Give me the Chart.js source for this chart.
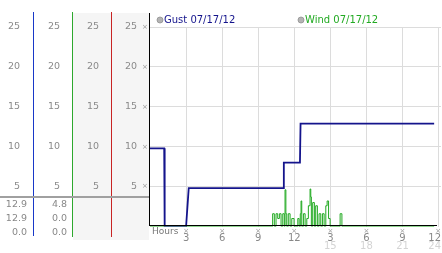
<!DOCTYPE html>
<html><head><meta charset="utf-8">
<script src="https://cdn.jsdelivr.net/npm/chart.js@4"></script>
<style>html,body{margin:0;padding:0;background:#fff;overflow:hidden}canvas{display:block}</style>
</head><body>
<canvas id="c" width="442" height="253"></canvas>
<script>
const gustLabel = 'Gust 07/17/12';
const windLabel = 'Wind 07/17/12';
const gustHours  = [0, 1.18, 1.22, 3.0, 3.22, 11.1, 11.13, 12.47, 12.52, 23.63];
const gustValues = [9.8, 9.8, 0, 0, 4.8, 4.8, 8.0, 8.0, 12.9, 12.9];
// wind: each value holds from its hour until the next hour (stepped)
const windHours = [0, 10.20, 10.34, 10.48, 10.62, 10.76, 10.90, 11.04, 11.17, 11.23,
  11.30, 11.37, 11.50, 11.65, 11.79, 11.98, 12.29, 12.40, 12.50, 12.56,
  12.62, 12.76, 12.90, 13.04, 13.17, 13.31, 13.37, 13.42, 13.53, 13.67,
  13.78, 13.92, 14.06, 14.20, 14.34, 14.48, 14.62, 14.73, 14.85, 14.98,
  15.81, 15.96, 23.63];
const windValues = [0, 1.6, 0, 1.6, 1.0, 1.6, 0, 1.6, 0, 4.6,
  1.6, 0, 1.6, 0, 1.0, 0, 1.0, 0, 1.6, 3.2,
  0, 1.6, 0, 1.0, 2.6, 4.7, 3.7, 0, 3.0, 0,
  2.6, 0, 1.6, 0, 1.6, 0, 2.6, 3.2, 1.0, 0,
  1.6, 0, 0];
const yTicks = [5, 10, 15, 20, 25];
const xTickHours = [3, 6, 9, 12, 15, 18, 21, 24];
const xTickLabels = ['3', '6', '9', '12', '3', '6', '9', '12'];
const xTickLabels24 = ['', '', '', '', '15', '18', '21', '24'];
const gustStats = ['12.9', '12.9', '0.0'];
const windStats = ['4.8', '0.0', '0.0'];

const F = '"DejaVu Sans", Verdana, sans-serif';
const GUST = '#14148c', WIND = '#22aa22';

const panel = {
  id: 'panel',
  beforeDraw(ch) {
    const c = ch.ctx; c.save();
    c.fillStyle = '#fff'; c.fillRect(0, 0, ch.width, ch.height);
    c.fillStyle = '#f5f5f5'; c.fillRect(73, 13, 76, 227);
    c.restore();
  },
  afterDatasetsDraw(ch) {
    const c = ch.ctx; c.save();
    c.fillStyle = '#000';
    c.fillRect(149, 13, 1, 213);
    c.fillRect(149, 225, 288, 1);
    c.restore();
  },
  afterDraw(ch) {
    const c = ch.ctx, ys = ch.scales.y, xs = ch.scales.x;
    c.save();
    // column lines
    c.fillStyle = '#1838c8'; c.fillRect(33, 12, 1, 224);
    c.fillStyle = '#2ea82e'; c.fillRect(72, 12, 1, 225);
    c.fillStyle = '#c82424'; c.fillRect(111, 12, 1, 225);
    // separator
    c.fillStyle = '#a0a0a0'; c.fillRect(0, 196, 149, 2);
    // y labels
    c.font = '9.5px ' + F; c.textBaseline = 'middle'; c.textAlign = 'right';
    const cols = [20, 60, 99, 137];
    yTicks.forEach(v => {
      const y = ys.getPixelForValue(v);
      c.fillStyle = '#8a8a8a';
      cols.forEach(x => c.fillText(String(v), x, y));
    });
    c.font = '7px ' + F; c.textAlign = 'center'; c.fillStyle = '#999';
    yTicks.forEach(v => c.fillText('×', 145, ys.getPixelForValue(v)));
    // stats
    c.font = '9.5px ' + F; c.textAlign = 'right'; c.fillStyle = '#888';
    const rows = [205, 219, 232.5];
    gustStats.forEach((t, i) => c.fillText(t, 27, rows[i]));
    windStats.forEach((t, i) => c.fillText(t, 67, rows[i]));
    // legend
    const leg = [[160, gustLabel, GUST], [301, windLabel, WIND]];
    leg.forEach(([x, t, col]) => {
      c.beginPath(); c.arc(x, 20, 3, 0, Math.PI * 2);
      c.fillStyle = '#b4b4b4'; c.fill();
      c.strokeStyle = '#909090'; c.lineWidth = 0.8; c.stroke();
      c.font = '10px ' + F; c.textAlign = 'left'; c.fillStyle = col;
      c.fillText(t, x + 4, 20);
    });
    // x labels
    c.font = '9px ' + F; c.textAlign = 'left'; c.fillStyle = '#777';
    c.fillText('Hours', 152, 231.5);
    const put = (t, x, y) => {
      const w = c.measureText(t).width;
      if (x + w / 2 > 441) { c.textAlign = 'right'; c.fillText(t, 441, y); }
      else { c.textAlign = 'center'; c.fillText(t, x, y); }
    };
    xTickHours.forEach((h, i) => {
      const x = xs.getPixelForValue(h);
      c.font = '7px ' + F; c.fillStyle = '#999'; put('×', x, 231);
      c.font = '10px ' + F; c.fillStyle = '#888'; put(xTickLabels[i], x, 238.5);
      c.fillStyle = '#d4d4d4'; put(xTickLabels24[i], x, 246.5);
    });
    c.restore();
  }
};

new Chart(document.getElementById('c'), {
  type: 'line',
  data: {
    datasets: [
      { label: gustLabel, data: gustHours.map((h, i) => ({ x: h, y: gustValues[i] })),
        borderColor: GUST, borderWidth: 1.8, pointRadius: 0, tension: 0, order: 1 },
      { label: windLabel, data: windHours.map((h, i) => ({ x: h, y: windValues[i] })),
        borderColor: WIND, borderWidth: 1, pointRadius: 0, tension: 0, stepped: true, order: 2 }
    ]
  },
  options: {
    responsive: false, animation: false, devicePixelRatio: 1,
    layout: { padding: { left: 150, top: 27, right: 1, bottom: 26.5 } },
    plugins: { legend: { display: false }, tooltip: { enabled: false } },
    scales: {
      x: { type: 'linear', min: 0, max: 24.2,
        afterBuildTicks: s => { s.ticks = xTickHours.map(v => ({ value: v })); },
        ticks: { display: false }, grid: { color: '#dcdcdc', drawTicks: false }, border: { display: false } },
      y: { type: 'linear', min: 0, max: 25,
        afterBuildTicks: s => { s.ticks = yTicks.map(v => ({ value: v })); },
        ticks: { display: false }, grid: { color: '#dcdcdc', drawTicks: false }, border: { display: false } }
    }
  },
  plugins: [panel]
});
</script>
</body></html>
